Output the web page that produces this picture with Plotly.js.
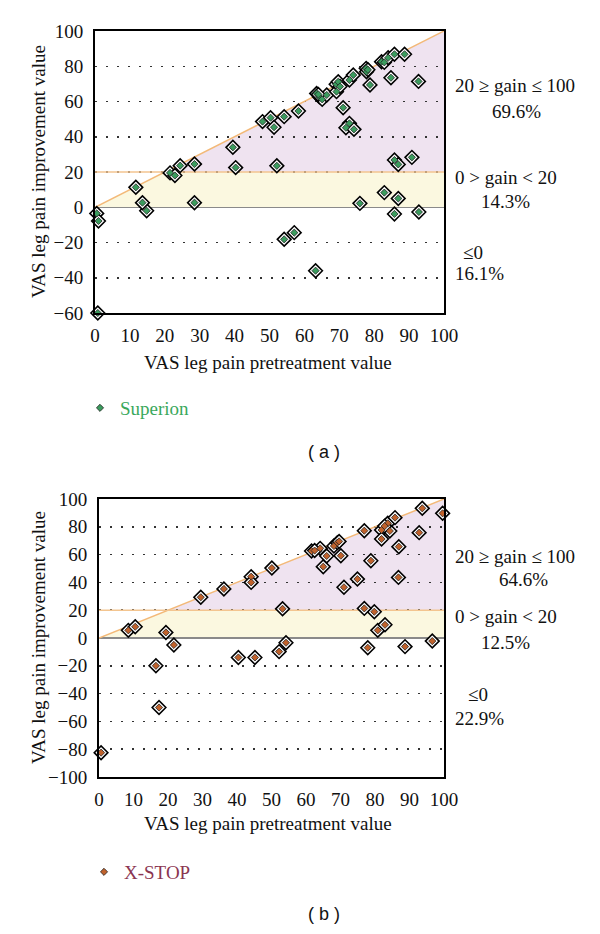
<!DOCTYPE html>
<html><head><meta charset="utf-8">
<script src="https://cdn.plot.ly/plotly-3.0.1.min.js"></script>
<style>html,body{margin:0;padding:0;background:#fff}#chart{width:600px;height:934px}</style>
</head><body><div id="chart"></div>
<script>
// Superion (panel a)
const supX = [0.5, 1.0, 0.8, 14.8, 54.2, 57.1, 63.2, 85.8, 92.8,
  11.7, 13.6, 28.5, 75.9, 82.9, 86.9, 21.5, 22.9,
  24.4, 28.5, 39.5, 40.3, 48.0, 50.3, 51.3, 52.1, 54.2, 58.3, 63.5, 64.3, 65.1, 66.4,
  69.1, 69.2, 69.7, 72.9, 74.0, 77.7, 77.8, 78.8, 82.1, 82.9, 84.0, 85.8, 88.7, 84.8,
  92.7, 71.1, 72.9, 71.9, 74.2, 85.8, 86.9, 90.8, 70.2, 64.0, 78.2];
const supY = [-3.5, -7.8, -60, -2.0, -18.2, -14.4, -36.0, -3.8, -2.7,
  11.3, 2.6, 2.6, 2.2, 8.3, 5.0, 19.5, 18.0,
  23.6, 24.5, 34.0, 22.5, 48.6, 50.8, 45.4, 23.5, 51.4, 54.6, 64.6, 62.7, 61.2, 63.7,
  69.8, 65.6, 71.2, 72.2, 75.0, 78.8, 76.9, 69.4, 82.6, 82.2, 84.8, 86.8, 86.8, 73.5,
  71.4, 56.5, 47.6, 45.1, 44.2, 26.8, 24.3, 28.3, 68.5, 64.0, 78.0];
// X-STOP (panel b)
const xsX = [21.7, 16.5, 17.4, 0.6, 40.4, 45.2, 52.2, 54.2, 77.9, 88.7, 96.6,
  8.5, 10.5, 19.4, 79.8, 80.8, 82.9,
  29.5, 36.2, 44.1, 44.1, 50.1, 53.2, 61.6, 64.1, 65.0, 66.0, 68.1, 69.1, 70.1, 71.0,
  74.9, 76.9, 78.8, 76.9, 81.9, 81.9, 83.7, 84.3, 85.8, 86.9, 86.8, 92.8, 93.7, 99.6,
  69.6, 82.8, 62.5];
const xsY = [-5.0, -20.0, -50.0, -82.5, -14.0, -14.0, -9.8, -3.4, -7.0, -6.2, -2.2,
  5.5, 8.1, 4.0, 18.9, 5.5, 9.5,
  29.3, 35.3, 44.1, 40.0, 50.3, 21.0, 62.6, 64.5, 51.3, 59.0, 66.2, 68.6, 59.2, 36.5,
  42.4, 77.2, 55.6, 21.3, 77.7, 71.2, 82.5, 77.0, 86.6, 65.7, 43.6, 75.8, 93.3, 89.7,
  69.5, 80.5, 62.9];

const seriesNames = ['Superion', 'X-STOP'];
const seriesColors = ['#3b9c5e', '#c0622c'];
const legendColors = ['#3aa85c', '#8b3551'];
const bandEdges = [0, 20, 100];
const pctA = ['69.6%', '14.3%', '16.1%'];
const pctB = ['64.6%', '12.5%', '22.9%'];
const bandLabels = ['20 \u2265 gain \u2264 100', '0 > gain < 20', '\u22640'];
const xTitle = 'VAS leg pain pretreatment value';
const yTitle = 'VAS leg pain improvement value';

const serif = 'Liberation Serif, Times New Roman, serif';
const fs = 19;

function pair(x, y, xa, ya, i, leg) {
  return [
    {type:'scatter', mode:'markers', x:x, y:y, xaxis:xa, yaxis:ya, showlegend:false, cliponaxis:false,
     marker:{symbol:'diamond', size:10.5, color:'#ffffff', line:{color:'#000', width:1.6}}, hoverinfo:'skip'},
    {type:'scatter', mode:'markers', x:x, y:y, xaxis:xa, yaxis:ya, name:seriesNames[i], legend:leg, cliponaxis:false,
     marker:{symbol:'diamond', size:5.5, color:seriesColors[i], line:{color:'#222', width:0.8}}}
  ];
}
const data = [...pair(supX, supY, 'x', 'y', 0, 'legend'), ...pair(xsX, xsY, 'x2', 'y2', 1, 'legend2')];

function bandShapes(xr, yr) {
  const [a, b, c] = bandEdges;
  return [
    {type:'path', xref:xr, yref:yr, layer:'below', line:{width:0}, fillcolor:'#efe3f0',
     path:`M${b},${b}L${c},${c}L${c},${b}Z`},
    {type:'path', xref:xr, yref:yr, layer:'below', line:{width:0}, fillcolor:'#fbf8e0',
     path:`M${a},${a}L${b},${b}L${c},${b}L${c},${a}Z`},
    {type:'line', xref:xr, yref:yr, layer:'between', x0:a, y0:a, x1:c, y1:c, line:{color:'#f3b978', width:1.5}},
    {type:'line', xref:xr, yref:yr, layer:'between', x0:a, y0:b, x1:c, y1:b, line:{color:'#f3c590', width:1.5}}
  ];
}

function axX(dom, anchor) {
  return {domain:dom, anchor:anchor, range:[0,100], dtick:10, tick0:0, showgrid:false, zeroline:false,
    showline:true, mirror:true, linecolor:'#000', linewidth:2, ticks:'', ticklabelstandoff:4,
    tickfont:{family:serif, size:fs, color:'#111'}, fixedrange:true};
}
function axY(dom, anchor, rng) {
  return {domain:dom, anchor:anchor, range:rng, dtick:20, tick0:0, showgrid:true, gridcolor:'#333',
    gridwidth:1.5, griddash:'1.5px,9.5px', zeroline:true, zerolinecolor:'#8a8a8a', zerolinewidth:1.5,
    showline:true, mirror:true, linecolor:'#000', linewidth:2, ticks:'', ticklabelstandoff:6,
    tickfont:{family:serif, size:fs, color:'#111'}, fixedrange:true};
}

const P = (px) => px / 600, Q = (py) => 1 - py / 934;
function txt(text, x, y, xanchor, extra) {
  return Object.assign({text:text, x:P(x), y:Q(y), xref:'paper', yref:'paper', xanchor:xanchor, yanchor:'middle',
    showarrow:false, font:{family:serif, size:fs, color:'#111'}}, extra || {});
}

const annotations = [
  txt(yTitle, 38, 172, 'center', {textangle:-90}),
  txt(xTitle, 268, 362, 'center'),
  txt(bandLabels[0], 453, 85, 'left'),
  txt(pctA[0], 516, 111, 'center'),
  txt(bandLabels[1], 453, 177, 'left'),
  txt(pctA[1], 505, 202, 'center'),
  txt(bandLabels[2], 472.5, 252, 'center'),
  txt(pctA[2], 453, 273, 'left'),
  txt('( a )', 324, 452, 'center', {font:{family:'Liberation Sans, Arial, sans-serif', size:18, color:'#111'}}),
  txt(yTitle, 38, 638, 'center', {textangle:-90}),
  txt(xTitle, 268, 823, 'center'),
  txt(bandLabels[0], 453, 556, 'left'),
  txt(pctB[0], 523, 579, 'center'),
  txt(bandLabels[1], 453, 616, 'left'),
  txt(pctB[1], 505, 642, 'center'),
  txt(bandLabels[2], 478, 694, 'center'),
  txt(pctB[2], 453, 718, 'left'),
  txt('( b )', 324, 914, 'center', {font:{family:'Liberation Sans, Arial, sans-serif', size:18, color:'#111'}})
];

const layout = {
  width:600, height:934, margin:{l:0, r:0, t:0, b:0}, paper_bgcolor:'#fff', plot_bgcolor:'#fff',
  xaxis: axX([95/600, 444/600], 'y'),
  yaxis: axY([Q(313), Q(31)], 'x', [-60, 100]),
  xaxis2: axX([99/600, 444/600], 'y2'),
  yaxis2: axY([Q(777), Q(499)], 'x2', [-100, 100]),
  shapes: [...bandShapes('x', 'y'), ...bandShapes('x2', 'y2')],
  annotations: annotations,
  legend: {x:P(80), y:Q(408), xanchor:'left', yanchor:'middle', bgcolor:'rgba(0,0,0,0)',
    font:{family:serif, size:fs, color:legendColors[0]}, itemsizing:'trace'},
  legend2: {x:P(84), y:Q(872), xanchor:'left', yanchor:'middle', bgcolor:'rgba(0,0,0,0)',
    font:{family:serif, size:fs, color:legendColors[1]}, itemsizing:'trace'},
  showlegend:true
};

Plotly.newPlot('chart', data, layout, {staticPlot:true, displayModeBar:false});
</script></body></html>
